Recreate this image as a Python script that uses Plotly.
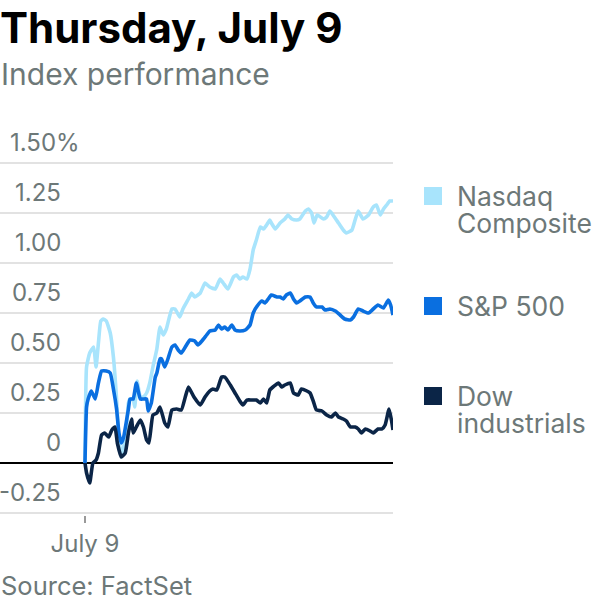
import plotly.graph_objects as go

# ---- data (minutes since market open, % change) ----
nasdaq_t = [0, 2, 6, 11, 14, 17, 20, 23, 27, 32, 36, 40, 43, 46, 49, 53, 55, 57, 61, 63, 66, 70, 74, 78, 82, 86, 91, 95, 99, 103, 110, 114, 120, 124, 131, 135, 139, 146, 152, 158, 165, 171, 175, 181, 188, 192, 196, 200, 205, 209, 213, 217, 222, 226, 230, 234, 236, 241, 247, 253, 257, 262, 268, 272, 279, 283, 287, 290, 294, 302, 306, 310, 314, 321, 327, 331, 338, 342, 346, 352, 359, 365, 369, 374, 378, 382, 386, 390]
nasdaq_v = [0.00, 0.48, 0.55, 0.58, 0.48, 0.60, 0.71, 0.72, 0.71, 0.65, 0.53, 0.32, 0.12, 0.03, 0.08, 0.20, 0.30, 0.32, 0.32, 0.28, 0.41, 0.33, 0.33, 0.35, 0.40, 0.48, 0.57, 0.68, 0.64, 0.67, 0.77, 0.77, 0.73, 0.77, 0.82, 0.85, 0.83, 0.85, 0.90, 0.88, 0.87, 0.92, 0.90, 0.87, 0.93, 0.94, 0.92, 0.93, 0.92, 0.97, 1.065, 1.115, 1.18, 1.17, 1.19, 1.215, 1.20, 1.17, 1.20, 1.22, 1.24, 1.22, 1.215, 1.22, 1.26, 1.27, 1.25, 1.20, 1.24, 1.22, 1.23, 1.26, 1.24, 1.20, 1.165, 1.15, 1.165, 1.215, 1.26, 1.22, 1.24, 1.28, 1.29, 1.24, 1.27, 1.29, 1.31, 1.31]

sp_t = [0, 2, 4, 8, 13, 17, 21, 27, 32, 36, 40, 43, 46, 49, 55, 57, 61, 65, 70, 74, 78, 80, 84, 89, 91, 95, 97, 101, 105, 110, 114, 118, 122, 127, 133, 139, 143, 148, 154, 158, 165, 169, 173, 177, 181, 186, 190, 196, 203, 209, 213, 219, 224, 228, 232, 236, 243, 247, 251, 255, 260, 264, 268, 272, 279, 285, 289, 293, 300, 304, 310, 317, 323, 329, 336, 340, 346, 352, 359, 365, 371, 378, 384, 387, 390]
sp_v = [0.00, 0.28, 0.32, 0.36, 0.32, 0.40, 0.46, 0.46, 0.45, 0.37, 0.27, 0.15, 0.10, 0.13, 0.27, 0.32, 0.32, 0.40, 0.32, 0.32, 0.32, 0.26, 0.30, 0.43, 0.45, 0.52, 0.52, 0.48, 0.52, 0.58, 0.59, 0.565, 0.55, 0.58, 0.615, 0.61, 0.59, 0.61, 0.64, 0.66, 0.665, 0.69, 0.67, 0.68, 0.665, 0.69, 0.665, 0.66, 0.665, 0.69, 0.75, 0.79, 0.81, 0.80, 0.82, 0.84, 0.83, 0.83, 0.82, 0.84, 0.85, 0.82, 0.80, 0.81, 0.83, 0.83, 0.80, 0.78, 0.78, 0.765, 0.77, 0.76, 0.74, 0.72, 0.715, 0.73, 0.77, 0.76, 0.75, 0.77, 0.79, 0.775, 0.815, 0.79, 0.74]

dow_t = [0, 2, 6, 10, 14, 17, 21, 25, 30, 34, 38, 41, 46, 51, 55, 59, 61, 65, 70, 74, 78, 81, 86, 91, 95, 101, 105, 110, 116, 122, 127, 131, 138, 146, 152, 158, 162, 167, 173, 177, 184, 190, 196, 200, 205, 211, 217, 222, 226, 230, 234, 238, 245, 249, 253, 260, 264, 270, 274, 281, 285, 289, 293, 300, 306, 312, 317, 321, 327, 331, 336, 342, 346, 350, 355, 361, 365, 371, 376, 380, 385, 388, 390]
dow_v = [0.00, -0.05, -0.10, 0.00, 0.015, 0.05, 0.14, 0.15, 0.13, 0.165, 0.18, 0.10, 0.03, 0.05, 0.15, 0.22, 0.15, 0.18, 0.215, 0.18, 0.115, 0.10, 0.24, 0.25, 0.28, 0.20, 0.18, 0.265, 0.27, 0.265, 0.33, 0.38, 0.33, 0.29, 0.33, 0.36, 0.37, 0.365, 0.43, 0.43, 0.39, 0.35, 0.31, 0.29, 0.315, 0.315, 0.315, 0.30, 0.32, 0.30, 0.365, 0.38, 0.40, 0.38, 0.39, 0.40, 0.35, 0.34, 0.37, 0.36, 0.35, 0.31, 0.265, 0.26, 0.24, 0.23, 0.25, 0.23, 0.22, 0.21, 0.18, 0.18, 0.17, 0.15, 0.17, 0.16, 0.15, 0.17, 0.17, 0.19, 0.27, 0.215, 0.165]

y_ticks = [-0.25, 0, 0.25, 0.5, 0.75, 1.0, 1.25, 1.5]
y_tick_labels = ["-0.25", "0", "0.25", "0.50", "0.75", "1.00", "1.25", "1.50%"]
x_tick_vals = [0]
x_tick_labels = ["July 9"]

series_names = [["Nasdaq", "Composite"], ["S&P 500"], ["Dow", "industrials"]]
series_colors = ["#a8e4fc", "#0a6fe0", "#0b2547"]

FONT = "Inter"
GRAY = "#6d7878"

# ---- layout geometry (pixels) ----
W, H = 600, 600
PL, PR, PT, PB = 0, 393, 140, 515  # plot area
x_range = [-107.6, 390]
y_range = [(463 - PB) / 200.0, (463 - PT) / 200.0]


def px_x(px):
    return (px - PL) / (PR - PL)


def px_y(py):
    return (PB - py) / (PB - PT)


fig = go.Figure()
for t, v, name, col in [(nasdaq_t, nasdaq_v, series_names[0], series_colors[0]),
                        (sp_t, sp_v, series_names[1], series_colors[1]),
                        (dow_t, dow_v, series_names[2], series_colors[2])]:
    fig.add_trace(go.Scatter(x=t, y=v, mode="lines", name=" ".join(name),
                             line=dict(color=col, width=3.6, shape="spline", smoothing=0.4),
                             showlegend=False, hoverinfo="skip"))

annotations = []
# y tick labels
for val, lab in zip(y_ticks, y_tick_labels):
    if lab.endswith("%"):
        annotations.append(dict(x=px_x(8), xref="paper", xanchor="left",
                                y=val, yref="y", yanchor="middle", yshift=21,
                                text=lab, showarrow=False,
                                font=dict(family=FONT, size=24, color=GRAY)))
    else:
        annotations.append(dict(x=px_x(63), xref="paper", xanchor="right",
                                y=val, yref="y", yanchor="middle", yshift=21,
                                text=lab, showarrow=False,
                                font=dict(family=FONT, size=24, color=GRAY)))

# title / subtitle / source
annotations.append(dict(x=px_x(-2), xref="paper", xanchor="left", y=px_y(27), yref="paper",
                        yanchor="middle", text="<b>Thursday, July 9</b>", showarrow=False,
                        font=dict(family=FONT, size=42, color="#000000")))
annotations.append(dict(x=px_x(-1), xref="paper", xanchor="left", y=px_y(74), yref="paper",
                        yanchor="middle", text="Index performance", showarrow=False,
                        font=dict(family=FONT, size=30, color=GRAY)))
annotations.append(dict(x=px_x(-1), xref="paper", xanchor="left", y=px_y(585), yref="paper",
                        yanchor="middle", text="Source: FactSet", showarrow=False, height=28,
                        font=dict(family=FONT, size=25.5, color=GRAY)))

# legend
legend_y = [196, 306, 396]
line_gap = 27
shapes = []
for lines, col, ly in zip(series_names, series_colors, legend_y):
    shapes.append(dict(type="rect", xref="paper", yref="paper",
                       x0=px_x(424), x1=px_x(442), y0=px_y(ly - 9), y1=px_y(ly + 9),
                       fillcolor=col, line=dict(width=0)))
    for i, ln in enumerate(lines):
        annotations.append(dict(x=px_x(455), xref="paper", xanchor="left",
                                y=px_y(ly + i * line_gap), yref="paper", yanchor="middle",
                                text=ln, showarrow=False, align="left",
                                font=dict(family=FONT, size=26.5, color=GRAY)))

fig.update_layout(
    width=W, height=H,
    margin=dict(l=PL, r=W - PR, t=PT, b=H - PB, pad=0),
    paper_bgcolor="white", plot_bgcolor="white",
    showlegend=False,
    xaxis=dict(range=x_range, showgrid=False, zeroline=False, showline=False,
               tickvals=x_tick_vals, ticktext=x_tick_labels, ticks="outside",
               ticklen=7, tickwidth=2, tickcolor="#999999",
               tickfont=dict(family=FONT, size=24, color=GRAY), fixedrange=True),
    yaxis=dict(range=y_range, tickvals=y_ticks, showticklabels=False,
               showgrid=True, gridcolor="#e2e2e2", gridwidth=2,
               zeroline=True, zerolinecolor="#000000", zerolinewidth=2,
               showline=False, ticks="", fixedrange=True),
    annotations=annotations,
    shapes=shapes,
)

fig.write_html("out.html")
